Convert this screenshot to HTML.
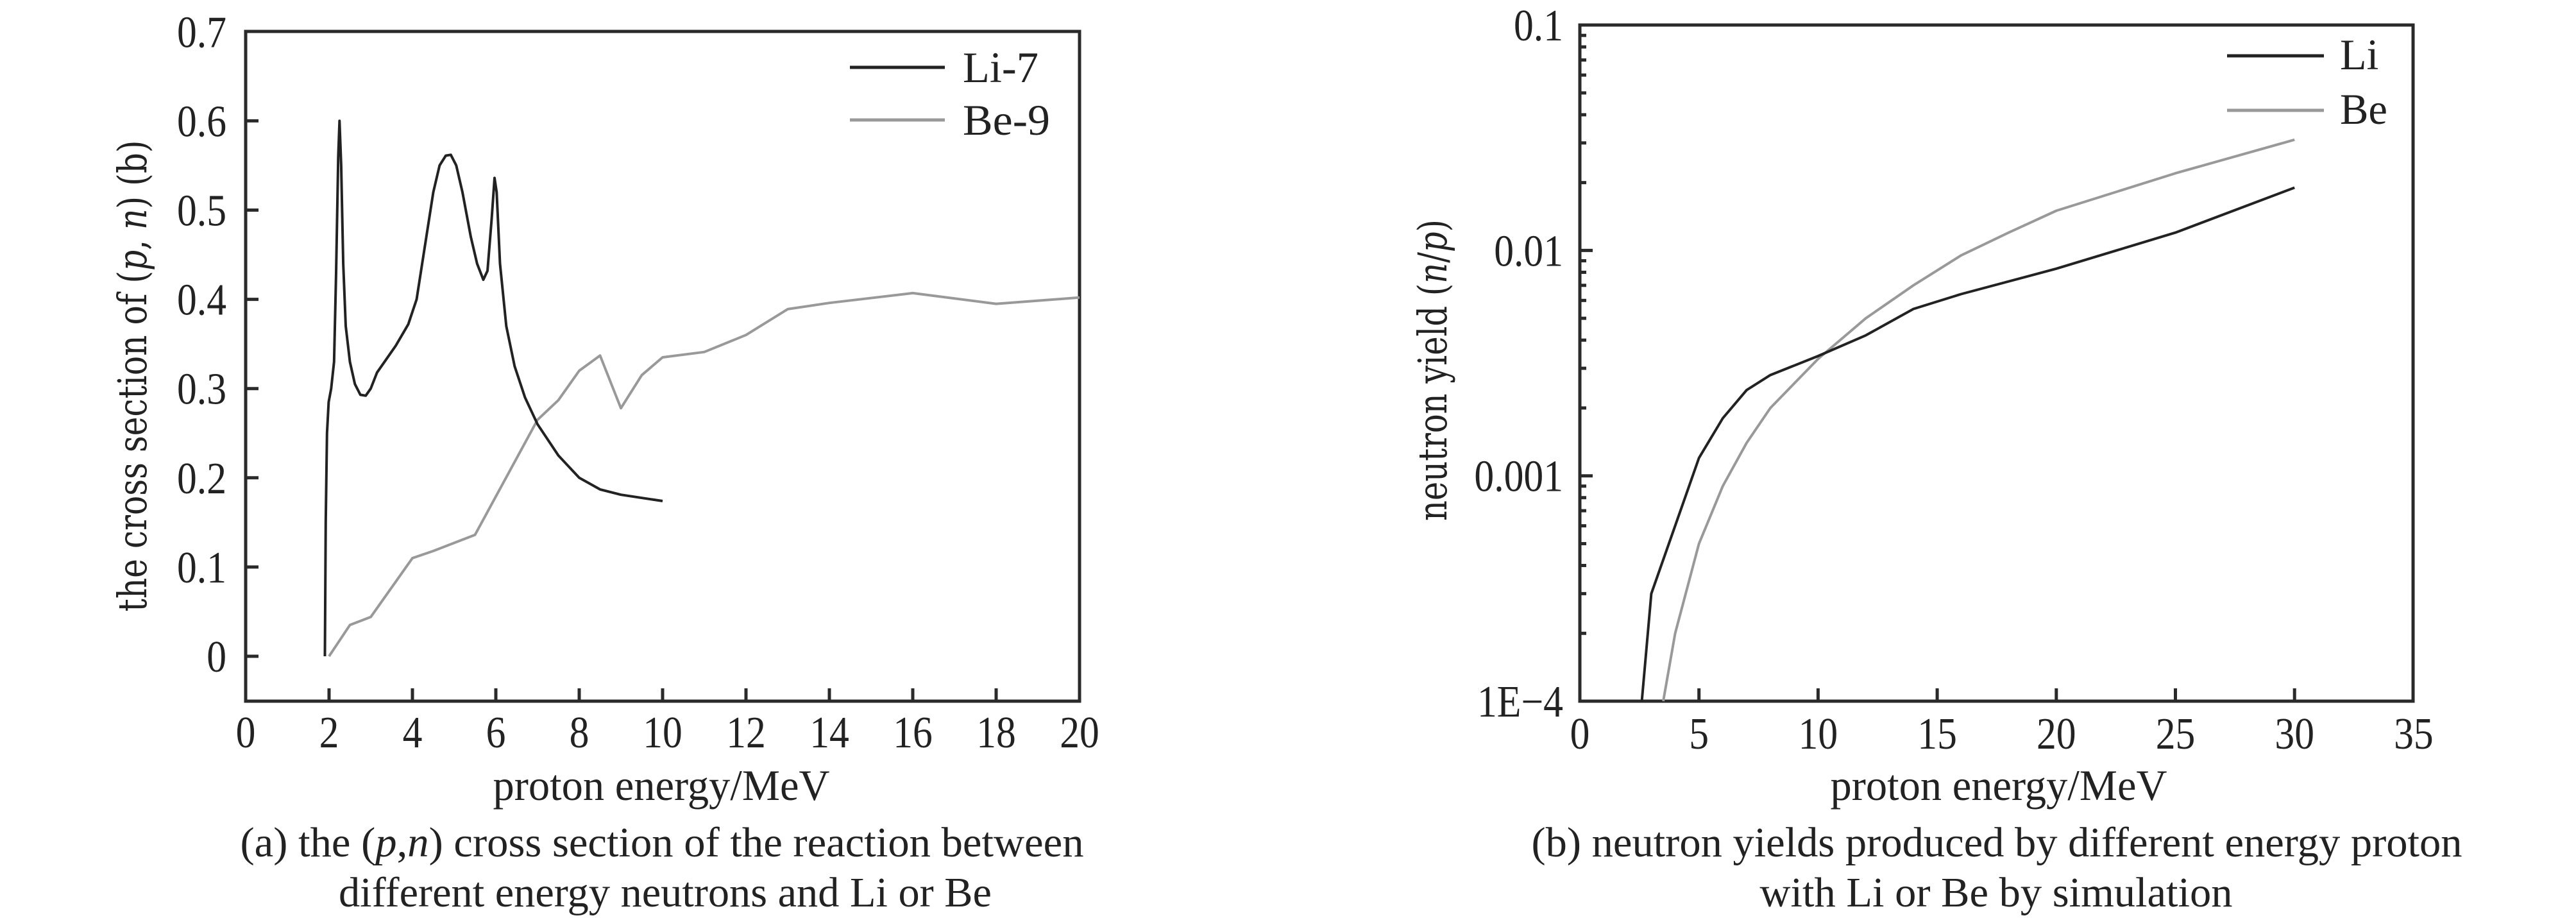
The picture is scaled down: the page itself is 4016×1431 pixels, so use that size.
<!DOCTYPE html>
<html><head><meta charset="utf-8"><style>
html,body{margin:0;padding:0;background:#fff;}
svg{display:block;}
text{font-family:"Liberation Serif",serif;fill:#222;}
</style></head><body>
<svg id="s" width="4016" height="1431" viewBox="0 0 4016 1431" xmlns="http://www.w3.org/2000/svg">
<g id="g"></g>
<g font-size="68">
<text x="1501" y="128" textLength="118" lengthAdjust="spacingAndGlyphs">Li-7</text>
<text x="1501" y="210" textLength="136" lengthAdjust="spacingAndGlyphs">Be-9</text>
<text x="3648" y="108">Li</text>
<text x="3648" y="193" textLength="74" lengthAdjust="spacingAndGlyphs">Be</text>
</g>
<text transform="translate(228,586) rotate(-90)" text-anchor="middle" font-size="62" textLength="735" lengthAdjust="spacingAndGlyphs" style="font-family:'DejaVu Serif',serif">the cross section of (<tspan font-style="italic">p</tspan>, <tspan font-style="italic">n</tspan>) (b)</text>
<text transform="translate(2255,577) rotate(-90)" text-anchor="middle" font-size="62" textLength="470" lengthAdjust="spacingAndGlyphs" style="font-family:'DejaVu Serif',serif">neutron yield (<tspan font-style="italic">n</tspan>/<tspan font-style="italic">p</tspan>)</text>
<text x="1031" y="1247" text-anchor="middle" font-size="68" textLength="525" lengthAdjust="spacingAndGlyphs">proton energy/MeV</text>
<text x="3116" y="1247" text-anchor="middle" font-size="68" textLength="525" lengthAdjust="spacingAndGlyphs">proton energy/MeV</text>
<text x="1032" y="1335" text-anchor="middle" font-size="66" textLength="1315" lengthAdjust="spacingAndGlyphs">(a) the (<tspan font-style="italic">p</tspan>,<tspan font-style="italic">n</tspan>) cross section of the reaction between</text>
<text x="1037" y="1413" text-anchor="middle" font-size="66" textLength="1018" lengthAdjust="spacingAndGlyphs">different energy neutrons and Li or Be</text>
<text x="3113" y="1335" text-anchor="middle" font-size="66" textLength="1451" lengthAdjust="spacingAndGlyphs">(b) neutron yields produced by different energy proton</text>
<text x="3112" y="1413" text-anchor="middle" font-size="66" textLength="737" lengthAdjust="spacingAndGlyphs">with Li or Be by simulation</text>
</svg>
<script>
var g=document.getElementById('g'),NS='http://www.w3.org/2000/svg';
function el(t,a,txt){var e=document.createElementNS(NS,t);for(var k in a)e.setAttribute(k,a[k]);if(txt!=null)e.textContent=txt;g.appendChild(e);return e;}
function line(x1,y1,x2,y2,c,w){el('line',{x1:x1,y1:y1,x2:x2,y2:y2,stroke:c,'stroke-width':w});}
function lab(x,y,anchor,s){var t=el('text',{x:x,y:y,'text-anchor':anchor,'font-size':70},s);var w=t.getComputedTextLength();t.setAttribute('textLength',(w*0.88).toFixed(1));t.setAttribute('lengthAdjust','spacingAndGlyphs');}
var AX='#2a2a2a';
function lx(v){return 383+65*v;} function ly(v){return 1023-1391*v;}
el('rect',{x:383,y:49,width:1300,height:1044,fill:'none',stroke:AX,'stroke-width':5});
for(var i=0;i<=20;i+=2){ if(i>0&&i<20)line(lx(i),1093,lx(i),1073,AX,5); lab(lx(i),1165,'middle',String(i));}
for(var j=0;j<=7;j++){var v=j/10,y=ly(v); if(j<7)line(383,y,403,y,AX,5); lab(353,y+24,'end',j==0?'0':v.toFixed(1));}
function poly(pts,fx,fy,c,w){el('polyline',{points:pts.map(function(p){return fx(p[0]).toFixed(1)+','+fy(p[1]).toFixed(1)}).join(' '),fill:'none',stroke:c,'stroke-width':w,'stroke-linejoin':'round'});}
var li7=[[1.9,0],[1.92,0.15],[1.95,0.25],[1.99,0.285],[2.05,0.3],[2.12,0.33],[2.17,0.43],[2.22,0.56],[2.25,0.6],[2.29,0.55],[2.34,0.44],[2.4,0.37],[2.5,0.33],[2.62,0.305],[2.75,0.293],[2.88,0.292],[3.0,0.3],[3.15,0.318],[3.3,0.328],[3.6,0.348],[3.9,0.372],[4.1,0.4],[4.3,0.46],[4.5,0.52],[4.65,0.55],[4.8,0.561],[4.92,0.562],[5.05,0.55],[5.2,0.52],[5.4,0.47],[5.55,0.44],[5.7,0.422],[5.8,0.432],[5.9,0.49],[5.97,0.536],[6.02,0.52],[6.1,0.44],[6.25,0.37],[6.45,0.325],[6.7,0.29],[7,0.26],[7.5,0.225],[8,0.2],[8.5,0.187],[9,0.181],[10,0.174]];
var be9=[[2,0],[2.5,0.035],[3,0.044],[4,0.11],[4.5,0.118],[5.5,0.136],[7,0.265],[7.5,0.287],[8,0.32],[8.5,0.337],[9,0.278],[9.5,0.315],[10,0.335],[11,0.341],[12,0.36],[13,0.389],[14,0.396],[16,0.407],[18,0.395],[20,0.402]];
poly(be9,lx,ly,'#999',4); poly(li7,lx,ly,'#222',4);
line(1325,105,1473,105,'#222',5); line(1325,187,1473,187,'#999',5);
function rx(v){return 2463+37.14*v;} function ry(v){return 1093-351.3*(Math.log10(v)+4);}
el('rect',{x:2463,y:39,width:1299,height:1054,fill:'none',stroke:AX,'stroke-width':5});
for(var i=0;i<=35;i+=5){ if(i>0&&i<35)line(rx(i),1093,rx(i),1073,AX,5); lab(rx(i),1167,'middle',String(i));}
var labs={'-4':'1E\u22124','-3':'0.001','-2':'0.01','-1':'0.1'};
for(var d=-4;d<=-1;d++){var y=ry(Math.pow(10,d)); if(d>-4&&d<-1)line(2463,y,2483,y,AX,5); lab(2437,y+24,'end',labs[d]);
 if(d<-1)for(var m=2;m<=9;m++){var yy=ry(m*Math.pow(10,d));line(2463,yy,2473,yy,AX,5);}}
var li=[[2.6,1e-4],[3,3e-4],[4,6e-4],[5,1.2e-3],[6,1.8e-3],[7,2.4e-3],[8,2.8e-3],[10,3.4e-3],[12,4.2e-3],[14,5.5e-3],[16,6.4e-3],[20,8.3e-3],[25,1.2e-2],[30,1.9e-2]];
var be=[[3.5,1e-4],[4,2e-4],[5,5e-4],[6,9e-4],[7,1.4e-3],[8,2e-3],[10,3.3e-3],[12,5e-3],[14,7e-3],[16,9.5e-3],[18,1.2e-2],[20,1.5e-2],[25,2.2e-2],[30,3.1e-2]];
poly(be,rx,ry,'#999',4); poly(li,rx,ry,'#222',4);
line(3472,87,3623,87,'#222',5); line(3472,172,3623,172,'#999',5);
</script>
</body></html>
